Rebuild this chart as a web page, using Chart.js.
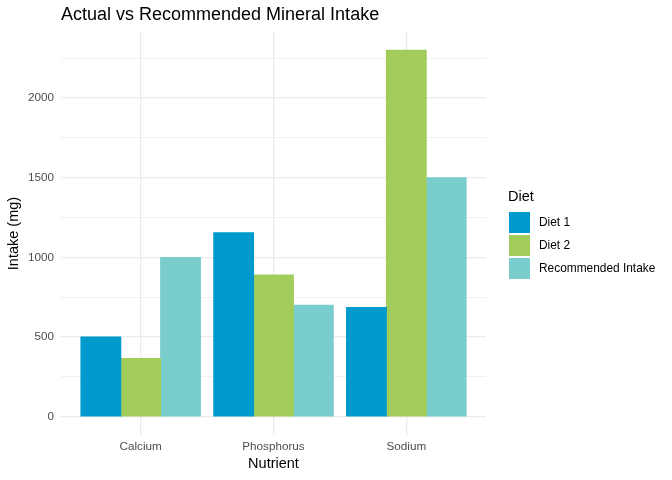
<!DOCTYPE html>
<html><head><meta charset="utf-8">
<script src="https://cdn.jsdelivr.net/npm/chart.js@4/dist/chart.umd.min.js"></script>
<style>html,body{margin:0;padding:0;background:#fff}#wrap{width:672px;height:480px}</style>
</head><body><div id="wrap"><canvas id="c" width="672" height="480"></canvas></div>
<script>
const categories = ['Calcium', 'Phosphorus', 'Sodium'];
const seriesNames = ['Diet 1', 'Diet 2', 'Recommended Intake'];
const diet1 = [500, 1155, 685];
const diet2 = [365, 890, 2300];
const recommended = [1000, 700, 1500];
const yTickValues = [0, 250, 500, 750, 1000, 1250, 1500, 1750, 2000, 2250];
const yTickLabels = [0, 500, 1000, 1500, 2000];
const seriesColors = ['#009ACD', '#A2CD5A', '#79CDCD'];

const FONT = '"Liberation Sans", Arial, Helvetica, sans-serif';
const seriesValues = [diet1, diet2, recommended];

const datasets = seriesNames.map((name, s) => ({
  label: name,
  data: seriesValues[s].map((v, i) => ({ x: i + 1, y: v })),
  backgroundColor: seriesColors[s],
  borderWidth: 0,
  inflateAmount: 0.5,
  categoryPercentage: 0.9,
  barPercentage: 1.0
}));

const textPlugin = {
  id: 'texts',
  afterDraw(chart) {
    const ctx = chart.ctx;
    const ca = chart.chartArea;
    ctx.save();
    ctx.fillStyle = '#000';
    ctx.font = '18px ' + FONT;
    ctx.textAlign = 'left';
    ctx.textBaseline = 'middle';
    ctx.fillText('Actual vs Recommended Mineral Intake', 61, 15);
    ctx.font = '14.5px ' + FONT;
    ctx.textAlign = 'center';
    ctx.fillText('Nutrient', (ca.left + ca.right) / 2, 464);
    ctx.save();
    ctx.translate(14, (ca.top + ca.bottom) / 2);
    ctx.rotate(-Math.PI / 2);
    ctx.fillText('Intake (mg)', 0, 0);
    ctx.restore();
    ctx.textAlign = 'left';
    ctx.font = '14.5px ' + FONT;
    ctx.fillText('Diet', 508, 197);
    ctx.font = '11.9px ' + FONT;
    chart.data.datasets.forEach((ds, i) => {
      const y = 212 + i * 23;
      ctx.fillStyle = ds.backgroundColor;
      ctx.fillRect(509, y, 21, 21);
      ctx.fillStyle = '#000';
      ctx.fillText(ds.label, 539, y + 11);
    });
    ctx.restore();
  }
};

new Chart(document.getElementById('c'), {
  type: 'bar',
  data: { datasets },
  options: {
    responsive: false,
    animation: false,
    devicePixelRatio: 1,
    layout: { padding: { left: 0, top: 32, right: 186, bottom: 0 } },
    plugins: { legend: { display: false }, tooltip: { enabled: false }, title: { display: false } },
    scales: {
      x: {
        type: 'linear',
        offset: false,
        min: 0.4,
        max: 3.6,
        afterBuildTicks(scale) { scale.ticks = categories.map((c, i) => ({ value: i + 1 })); },
        afterFit(scale) { scale.height = 45; },
        ticks: {
          callback(v) { return categories[Math.round(v) - 1] || ''; },
          color: '#4D4D4D',
          font: { family: FONT, size: 11.7 },
          padding: 5,
          maxRotation: 0,
          autoSkip: false
        },
        grid: { offset: false, color: '#EBEBEB', lineWidth: 1.3, drawTicks: false },
        border: { display: false }
      },
      y: {
        min: -115,
        max: 2415,
        afterBuildTicks(scale) { scale.ticks = yTickValues.map(v => ({ value: v })); },
        afterFit(scale) { scale.width = 61; },
        ticks: {
          callback(v) { return yTickLabels.includes(v) ? String(v) : ''; },
          color: '#4D4D4D',
          font: { family: FONT, size: 11.7 },
          padding: 7,
          autoSkip: false
        },
        grid: {
          color: '#EBEBEB',
          lineWidth(ctx) { return (ctx.tick && yTickLabels.includes(ctx.tick.value)) ? 1.3 : 0.7; },
          drawTicks: false
        },
        border: { display: false }
      }
    }
  },
  plugins: [textPlugin]
});
</script>
</body></html>
